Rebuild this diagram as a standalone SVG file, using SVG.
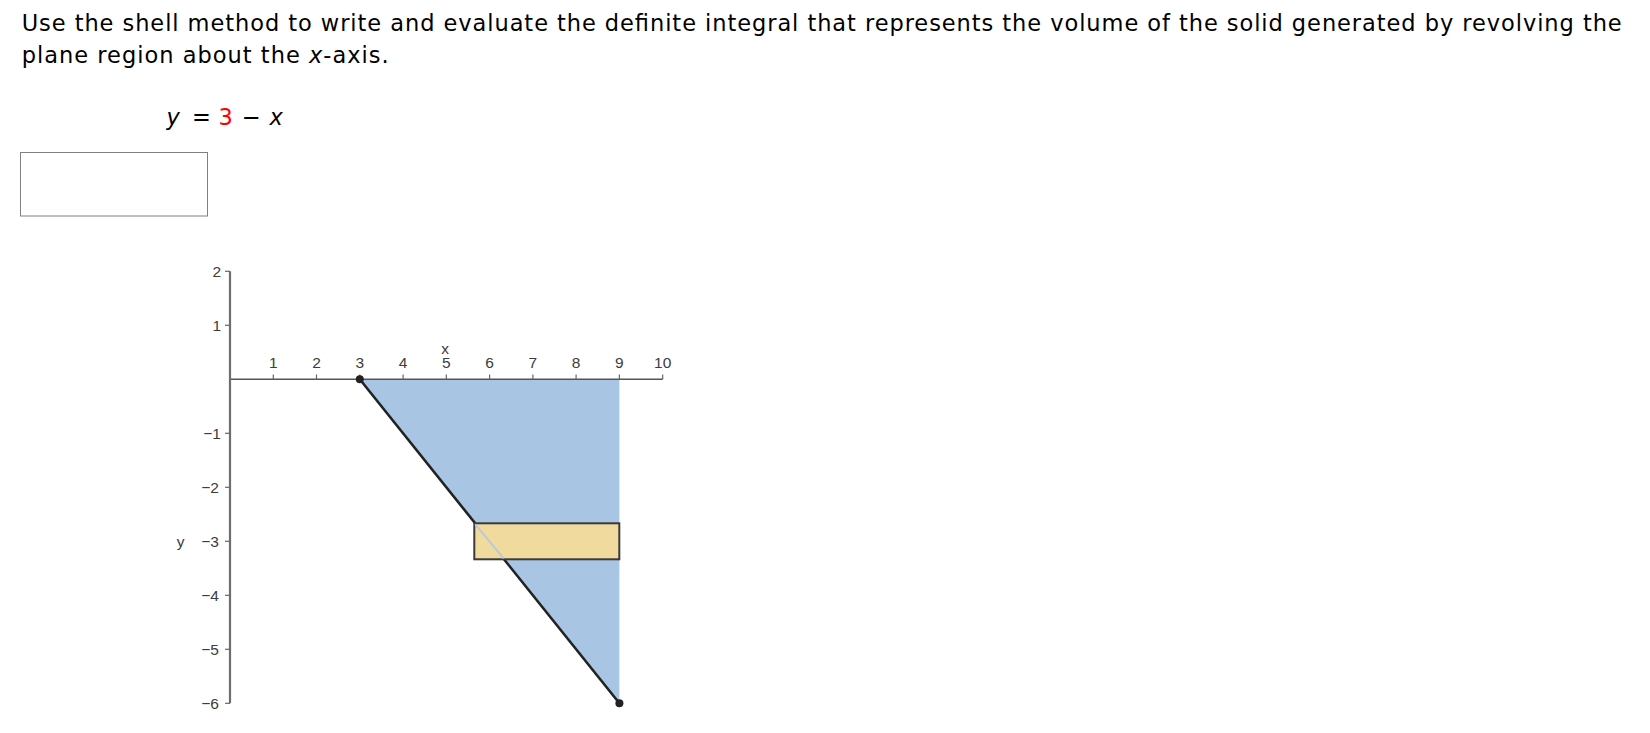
<svg xmlns="http://www.w3.org/2000/svg" width="1650" height="733" viewBox="0 0 1650 733">
  <style>
    .q { font-family: "DejaVu Sans", Verdana, sans-serif; font-size: 22.5px; fill: #000; }
    .ax { font-family: "Liberation Sans", Arial, sans-serif; font-size: 15.5px; fill: #3c3c3c; }
    .axline { stroke: #555; stroke-width: 1.5; fill: none; }
    .yaxis { stroke: #6e6e6e; stroke-width: 2.2; fill: none; }
    .tick { stroke: #666; stroke-width: 1.2; }
  </style>
  <rect width="1650" height="733" fill="#fff"/>

  <g id="question">
    <text class="q" x="21.7" y="30.7" textLength="1600" lengthAdjust="spacing">Use the shell method to write and evaluate the definite integral that represents the volume of the solid generated by revolving the</text>
    <text class="q" x="21.7" y="63.3" textLength="367" lengthAdjust="spacing">plane region about the <tspan font-style="italic">x</tspan>-axis.</text>
  </g>

  <g id="equation" class="q">
    <text x="166.5" y="125" font-style="italic">y</text>
    <text x="192" y="125">=</text>
    <text x="218.5" y="125" fill="#f00">3</text>
    <text x="242" y="125">−</text>
    <text x="269.5" y="125" font-style="italic">x</text>
  </g>

  <g id="answer-box">
    <rect x="20.5" y="152.5" width="187" height="63.5" fill="#fff" stroke="#808080" stroke-width="1"/>
  </g>

  <g id="graph">
    <g id="region">
      <polygon points="359.8,379.3 619.4,379.3 619.4,703.3" fill="#a8c6e4"/>
    </g>
    <g id="axes">
      <line class="axline" x1="230" y1="379.3" x2="662.7" y2="379.3"/>
      <g class="tick">
        <line x1="273.3" y1="379.3" x2="273.3" y2="374.5"/>
        <line x1="316.5" y1="379.3" x2="316.5" y2="374.5"/>
        <line x1="359.8" y1="379.3" x2="359.8" y2="374.5"/>
        <line x1="403.1" y1="379.3" x2="403.1" y2="374.5"/>
        <line x1="446.3" y1="379.3" x2="446.3" y2="374.5"/>
        <line x1="489.6" y1="379.3" x2="489.6" y2="374.5"/>
        <line x1="532.9" y1="379.3" x2="532.9" y2="374.5"/>
        <line x1="576.1" y1="379.3" x2="576.1" y2="374.5"/>
        <line x1="619.4" y1="379.3" x2="619.4" y2="374.5"/>
        <line x1="662.7" y1="379.3" x2="662.7" y2="374.5"/>
      </g>
      <line class="yaxis" x1="230" y1="271.3" x2="230" y2="703.3"/>
      <g class="tick">
        <line x1="225" y1="271.3" x2="230" y2="271.3"/>
        <line x1="225" y1="325.3" x2="230" y2="325.3"/>
        <line x1="225" y1="433.3" x2="230" y2="433.3"/>
        <line x1="225" y1="487.3" x2="230" y2="487.3"/>
        <line x1="225" y1="541.3" x2="230" y2="541.3"/>
        <line x1="225" y1="595.3" x2="230" y2="595.3"/>
        <line x1="225" y1="649.3" x2="230" y2="649.3"/>
        <line x1="225" y1="703.3" x2="230" y2="703.3"/>
      </g>
      <g class="ax" text-anchor="middle">
        <text x="273.3" y="368">1</text>
        <text x="316.5" y="368">2</text>
        <text x="359.8" y="368">3</text>
        <text x="403.1" y="368">4</text>
        <text x="446.3" y="368">5</text>
        <text x="489.6" y="368">6</text>
        <text x="532.9" y="368">7</text>
        <text x="576.1" y="368">8</text>
        <text x="619.4" y="368">9</text>
        <text x="662.7" y="368">10</text>
        <text x="445" y="353.5">x</text>
      </g>
      <g class="ax" text-anchor="end">
        <text x="221" y="276.5">2</text>
        <text x="221" y="330.5">1</text>
        <text x="221" y="438.5">−1</text>
        <text x="219" y="492.5">−2</text>
        <text x="219" y="546.5">−3</text>
        <text x="219" y="600.5">−4</text>
        <text x="219" y="654.5">−5</text>
        <text x="219" y="708.5">−6</text>
      </g>
      <text class="ax" x="180.5" y="546.5" text-anchor="middle">y</text>
    </g>
    <g id="curve">
      <line x1="359.8" y1="379.3" x2="619.4" y2="703.3" stroke="#222" stroke-width="2.6"/>
      <circle cx="359.8" cy="379.3" r="4" fill="#222"/>
      <circle cx="619.4" cy="703.3" r="4" fill="#222"/>
    </g>
    <g id="shell-rectangle">
      <rect x="474.3" y="523.3" width="145" height="36" fill="#f0da9e" stroke="#3a3a3a" stroke-width="2"/>
      <line x1="475.3" y1="524.3" x2="503.6" y2="558.3" stroke="#b9cbd8" stroke-width="2"/>
    </g>
  </g>
</svg>
